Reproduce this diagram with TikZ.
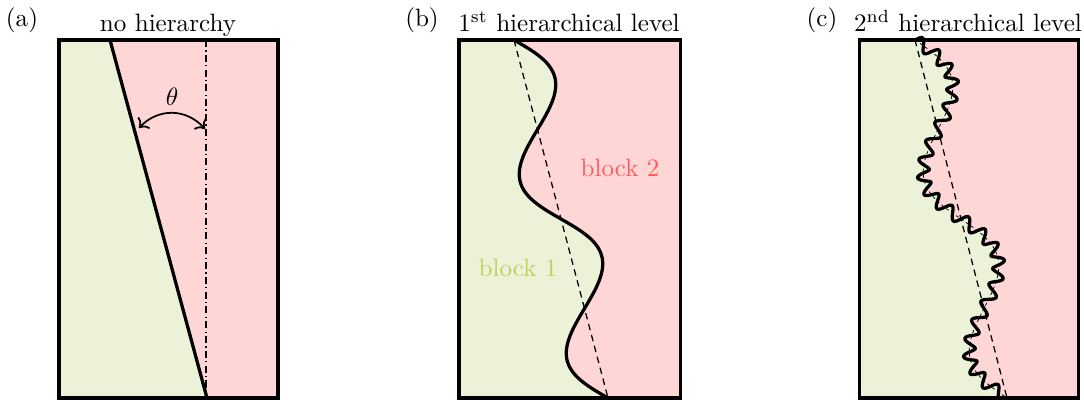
\documentclass[tikz,border=0pt]{standalone}
\usetikzlibrary{arrows.meta}
\definecolor{blockonefill}{RGB}{236,242,216}
\definecolor{blocktwofill}{RGB}{255,214,214}
\definecolor{blockonetext}{RGB}{190,210,90}
\definecolor{blocktwotext}{RGB}{255,90,90}

\begin{document}
\begin{tikzpicture}[
    x=0.014cm, y=-0.014cm,
    frame/.style={draw=black, line width=1.2pt},
    cut/.style={draw=black, line width=1.3pt, line join=round},
    guide/.style={draw=black, line width=0.5pt, dash pattern=on 2.6pt off 1.9pt},
    axisline/.style={draw=black, line width=0.5pt, dash pattern=on 2.8pt off 1.3pt on 0.5pt off 1.3pt},
    faint/.style={draw=black, line width=0.3pt, dash pattern=on 1.2pt off 1.2pt},
    title/.style={anchor=base, inner sep=0pt},
    declare function={
        cc(\t)=0.884*cos(720*\t);
        nn(\t)=sqrt(1+cc(\t)*cc(\t));
        ww(\t)=6*sin(8640*\t)/nn(\t);
    }
]
\useasboundingbox (0,0) rectangle (1084,400);

% (a) no hierarchy
\fill[blocktwofill] (59,40) rectangle (278,398);
\fill[blockonefill] (59,40) -- (110,40) -- (207,398) -- (59,398) -- cycle;
\draw[axisline] (206,40) -- (206,398);
\draw[cut] (110,40) -- (207,398);
\draw[frame] (59,40) rectangle (278,398);
\coordinate (thl) at (139,128);
\coordinate (thr) at (205,129);
\draw[<->, line width=0.7pt] (thl) .. controls (158,108) and (186,108) .. (thr);
\node (theta) at (172,97) {$\theta$};
\node[title] (laba) at (22,27) {(a)};
\node[title] (tita) at (168,32) {no hierarchy};

% (b) first level
\fill[blocktwofill] (459,40) rectangle (680,398);
\fill[blockonefill] (459,40) -- plot[domain=0:1, samples=150, variable=\t]
    ({514+94*\t+30*sin(720*\t)*0.967}, {40+358*\t-30*sin(720*\t)*0.254})
    -- (459,398) -- cycle;
\draw[guide] (514,40) -- (608,398);
\draw[cut] plot[domain=0:1, samples=150, variable=\t]
    ({514+94*\t+30*sin(720*\t)*0.967}, {40+358*\t-30*sin(720*\t)*0.254});
\draw[frame] (459,40) rectangle (680,398);
\node[text=blockonetext] (blka) at (518,268) {block 1};
\node[text=blocktwotext] (blkb) at (620,168) {block 2};
\node[title] (labb) at (422,27) {(b)};
\node[title] (titb) at (569,32) {1\textsuperscript{st} hierarchical level};

% (c) second level
\fill[blocktwofill] (859,40) rectangle (1078,398);
\fill[blockonefill] (859,40) -- plot[domain=0:1, samples=500, variable=\t]
    ({915+92*\t+26*sin(720*\t)*0.9686+ww(\t)*(0.9686-cc(\t)*0.2489)},
     {40+358*\t-26*sin(720*\t)*0.2489+ww(\t)*(-0.2489-cc(\t)*0.9686)})
    -- (859,398) -- cycle;
\draw[guide] (915,40) -- (1007,398);
\draw[faint] plot[domain=0:1, samples=150, variable=\t]
    ({915+92*\t+26*sin(720*\t)*0.9686}, {40+358*\t-26*sin(720*\t)*0.2489});
\draw[cut] plot[domain=0:1, samples=500, variable=\t]
    ({915+92*\t+26*sin(720*\t)*0.9686+ww(\t)*(0.9686-cc(\t)*0.2489)},
     {40+358*\t-26*sin(720*\t)*0.2489+ww(\t)*(-0.2489-cc(\t)*0.9686)});
\draw[frame] (859,40) rectangle (1078,398);
\node[title] (labc) at (822,27) {(c)};
\node[title] (titc) at (968,32) {2\textsuperscript{nd} hierarchical level};
\end{tikzpicture}
\end{document}
